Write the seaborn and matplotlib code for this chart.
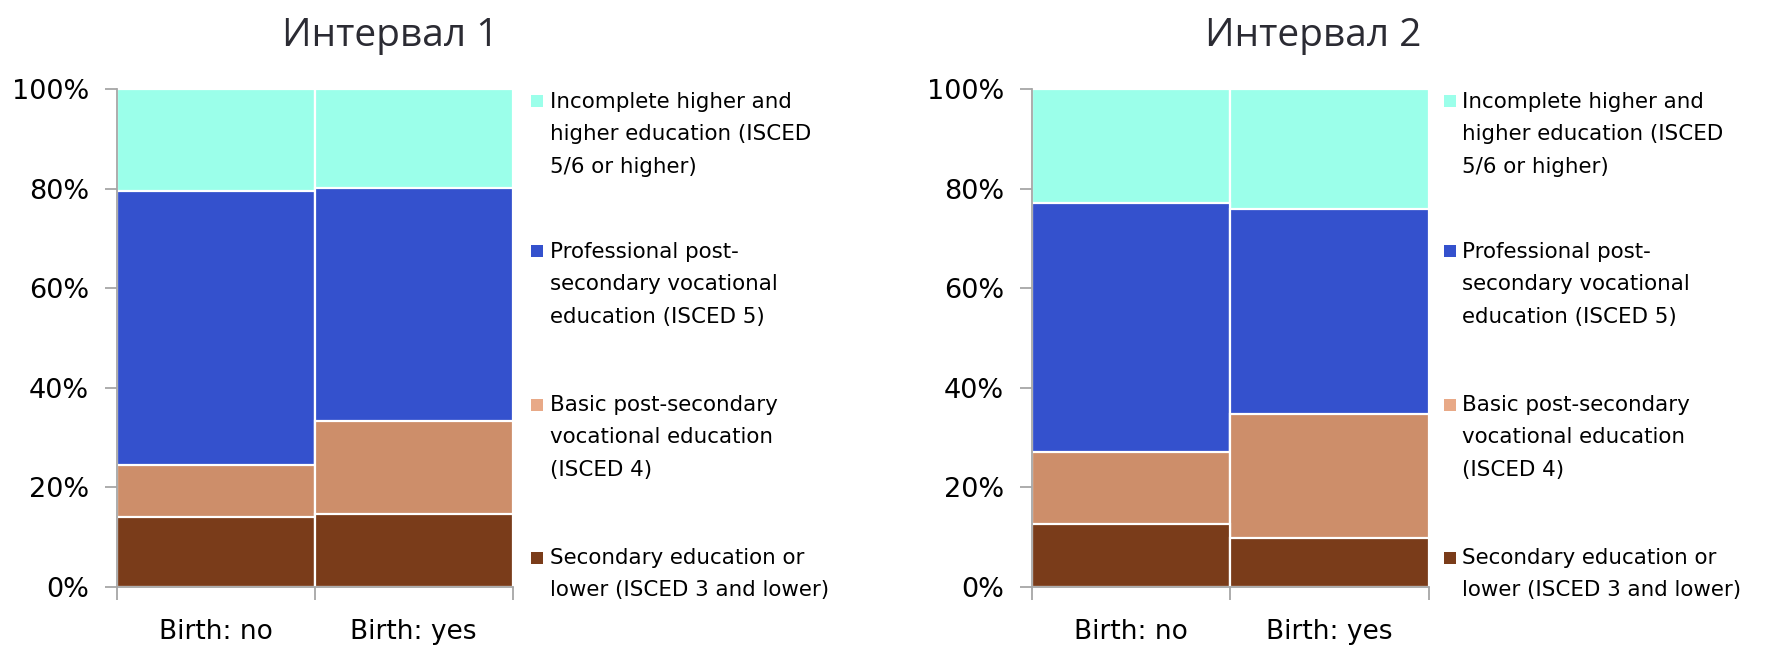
import numpy as np
import pandas as pd
import matplotlib
matplotlib.use("Agg")
import matplotlib.pyplot as plt
import seaborn as sns

sns.set_theme(style="white")
plt.rcParams['font.family'] = ['DejaVu Sans']
plt.rcParams['text.color'] = 'black'
plt.rcParams['xtick.labelcolor'] = 'black'
plt.rcParams['ytick.labelcolor'] = 'black'

# Data (shares, %)
categories = ["Birth: no", "Birth: yes"]
levels = [
    "Secondary education or\nlower (ISCED 3 and lower)",
    "Basic post-secondary\nvocational education\n(ISCED 4)",
    "Professional post-\nsecondary vocational\neducation (ISCED 5)",
    "Incomplete higher and\nhigher education (ISCED\n5/6 or higher)",
]
interval1 = {
    "secondary": [14.1, 14.7],
    "basic": [10.3, 18.6],
    "professional": [55.1, 46.8],
    "higher": [20.5, 19.9],
}
interval2 = {
    "secondary": [12.7, 9.7],
    "basic": [14.4, 25.0],
    "professional": [50.0, 41.3],
    "higher": [22.9, 24.0],
}
titles = ["Интервал 1", "Интервал 2"]

layer_keys = ["secondary", "basic", "professional", "higher"]
bar_colors = ["#7A3C1A", "#CD8E6A", "#3451CD", "#9BFFEA"]
legend_colors = ["#7A3C1A", "#E8A987", "#3451CD", "#9BFFEA"]

W, H = 1775, 646
fig = plt.figure(figsize=(W / 100, H / 100), dpi=100)
ax_bottom_px, ax_top_px = 586.7, 89.3
ax_h = (ax_bottom_px - ax_top_px) / H
ax1 = fig.add_axes([116.7 / W, 1 - ax_bottom_px / H, 396 / W, ax_h])
ax2 = fig.add_axes([1031.7 / W, 1 - ax_bottom_px / H, 397.3 / W, ax_h])

# first-line baselines of the legend entries (pixels from top)
legend_base_px = [564, 411, 258, 108]
leg_fs = 15.4
leg_asc_px = 0.76 * leg_fs * 100 / 72


def to_axes_y(px):
    return (ax_bottom_px - px) / (ax_bottom_px - ax_top_px)


def draw_panel(ax, data, title, title_x, leg_marker_x, leg_text_x):
    df = pd.DataFrame(data, index=categories)
    cum = df[layer_keys].cumsum(axis=1)
    # draw from top layer down so lower layers cover the upper cumulative bars
    for key, col in zip(layer_keys[::-1], bar_colors[::-1]):
        d = pd.DataFrame({"cat": categories, "val": cum[key].values})
        sns.barplot(data=d, x="cat", y="val", color=col, width=1.0,
                    edgecolor="white", linewidth=1.6, saturation=1, ax=ax)
    ax.set_xlim(-0.5, 1.5)
    ax.set_ylim(0, 100)
    ax.set_yticks([0, 20, 40, 60, 80, 100])
    ax.set_yticklabels([f"{v}%" for v in [0, 20, 40, 60, 80, 100]],
                       fontsize=19.5, color="black")
    ax.set_xticks([-0.5, 0.5, 1.5])
    ax.set_xticklabels([])
    ax.set_xticks([0, 1], minor=True)
    ax.set_xticklabels(categories, minor=True, fontsize=19, color="black")
    ax.tick_params(axis="x", which="minor", length=0, pad=23)
    ax.tick_params(axis="x", which="major", length=9, width=1.3,
                   color="#A6A6A6", direction="out", bottom=True)
    ax.tick_params(axis="y", length=9, width=1.3, color="#A6A6A6",
                   direction="out", left=True, pad=11)
    ax.set_xlabel("")
    ax.set_ylabel("")
    for s in ["top", "right"]:
        ax.spines[s].set_visible(False)
    for s in ["left", "bottom"]:
        ax.spines[s].set_color("#A6A6A6")
        ax.spines[s].set_linewidth(1.3)

    # legend, built by hand so markers sit on the first text line
    for lab, col, base in zip(levels, legend_colors, legend_base_px):
        ax.scatter([leg_marker_x], [to_axes_y(base - 6.5)], marker="s", s=78,
                   color=col, transform=ax.transAxes, clip_on=False, linewidths=0)
        ax.text(leg_text_x, to_axes_y(base - leg_asc_px), lab,
                transform=ax.transAxes, va="top", ha="left", fontsize=leg_fs,
                linespacing=1.78, color="black")

    fig.text(title_x, 1 - 36 / H, title, ha="center", va="center",
             fontsize=28, color="#2B2B33", family=["Open Sans", "DejaVu Sans"])


draw_panel(ax1, interval1, titles[0], 390 / W, 1.061, 1.094)
draw_panel(ax2, interval2, titles[1], 1313 / W, 1.0516, 1.082)

fig.savefig("out.png", dpi=100, facecolor="white")
